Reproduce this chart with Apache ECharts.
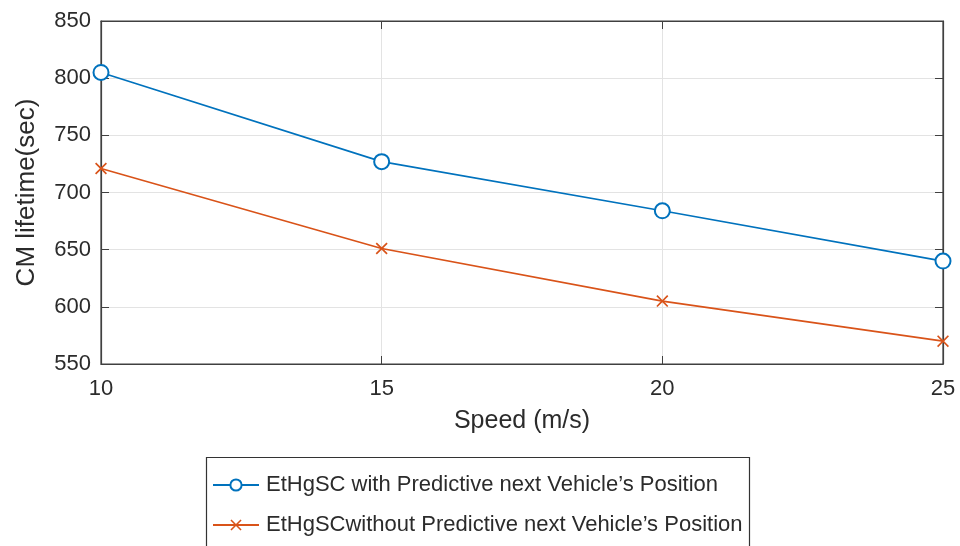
<!DOCTYPE html>
<html>
<head>
<meta charset="utf-8">
<script src="https://cdn.jsdelivr.net/npm/echarts@6/dist/echarts.min.js"></script>
<style>html,body{margin:0;padding:0;background:#fff}#c{width:960px;height:546px}</style>
</head>
<body>
<div id="c"></div>
<script>
const speeds = [10, 15, 20, 25];
const withPred = [805, 727, 684, 640];
const withoutPred = [721, 651, 605, 570];
const seriesNames = ["EtHgSC with Predictive next Vehicle\u2019s Position", "EtHgSCwithout Predictive next Vehicle\u2019s Position"];
const xTicks = [10, 15, 20, 25];
const yTicks = [550, 600, 650, 700, 750, 800, 850];

const FONT = 'Liberation Sans, Arial, sans-serif';
const TXT = '#2b2b2b';
const AX = '#404040';
const GRID = '#e3e3e3';
const xPath = 'path://M0,1 L1,0 L5,4 L9,0 L10,1 L6,5 L10,9 L9,10 L5,6 L1,10 L0,9 L4,5 Z';

const chart = echarts.init(document.getElementById('c'), null, {renderer: 'canvas'});
const pair = a => a.map((v, i) => [speeds[i], v]);

chart.setOption({
  animation: false,
  backgroundColor: '#fff',
  textStyle: {fontFamily: FONT},
  grid: {left: 101, right: 17, top: 21, bottom: 182, show: true, borderColor: AX, borderWidth: 1.2, backgroundColor: 'transparent'},
  xAxis: [{
    type: 'value', min: xTicks[0], max: xTicks[xTicks.length - 1], interval: 5,
    name: 'Speed (m/s)', nameLocation: 'middle', nameGap: 45,
    nameTextStyle: {fontSize: 25, color: TXT, fontFamily: FONT},
    axisLine: {show: true, lineStyle: {color: AX, width: 1.2}},
    axisTick: {show: true, inside: true, length: 8, lineStyle: {color: AX}},
    axisLabel: {fontSize: 22, color: TXT, margin: 14, fontFamily: FONT},
    splitLine: {show: true, lineStyle: {color: GRID, width: 1}}
  }, {
    type: 'value', position: 'top', min: xTicks[0], max: xTicks[xTicks.length - 1], interval: 5,
    axisLine: {show: true, lineStyle: {color: AX, width: 1.2}},
    axisTick: {show: true, inside: true, length: 8, lineStyle: {color: AX}},
    axisLabel: {show: false}, splitLine: {show: false}
  }],
  yAxis: [{
    type: 'value', min: yTicks[0], max: yTicks[yTicks.length - 1], interval: 50,
    name: 'CM lifetime(sec)', nameLocation: 'middle', nameGap: 61, nameRotate: 90,
    nameTextStyle: {fontSize: 26, color: TXT, fontFamily: FONT},
    axisLine: {show: true, lineStyle: {color: AX, width: 1.2}},
    axisTick: {show: true, inside: true, length: 8, lineStyle: {color: AX}},
    axisLabel: {fontSize: 22, color: TXT, margin: 10, fontFamily: FONT},
    splitLine: {show: true, lineStyle: {color: GRID, width: 1}}
  }, {
    type: 'value', position: 'right', min: yTicks[0], max: yTicks[yTicks.length - 1], interval: 50,
    axisLine: {show: true, lineStyle: {color: AX, width: 1.2}},
    axisTick: {show: true, inside: true, length: 8, lineStyle: {color: AX}},
    axisLabel: {show: false}, splitLine: {show: false}
  }],
  legend: {
    orient: 'vertical', left: 212, top: 474, itemWidth: 46, itemHeight: 14, itemGap: 18,
    padding: 0,
    textStyle: {fontSize: 22, color: TXT, fontFamily: FONT, padding: [0, 0, 0, 2]},
    data: seriesNames
  },
  graphic: [{
    type: 'rect', left: 204, top: 455, shape: {width: 543, height: 120},
    style: {fill: 'none', stroke: '#333', lineWidth: 1.2}, z: -1, silent: true
  }],
  series: [{
    name: seriesNames[0], type: 'line', data: pair(withPred),
    symbol: 'emptyCircle', symbolSize: 15, showAllSymbol: true,
    lineStyle: {color: '#0072BD', width: 1.6},
    itemStyle: {color: '#0072BD', borderColor: '#0072BD', borderWidth: 1.6},
    z: 3
  }, {
    name: seriesNames[1], type: 'line', data: pair(withoutPred),
    symbol: xPath, symbolSize: 12, showAllSymbol: true,
    lineStyle: {color: '#D95319', width: 1.6},
    itemStyle: {color: '#D95319'},
    z: 3
  }]
});
</script>
</body>
</html>
